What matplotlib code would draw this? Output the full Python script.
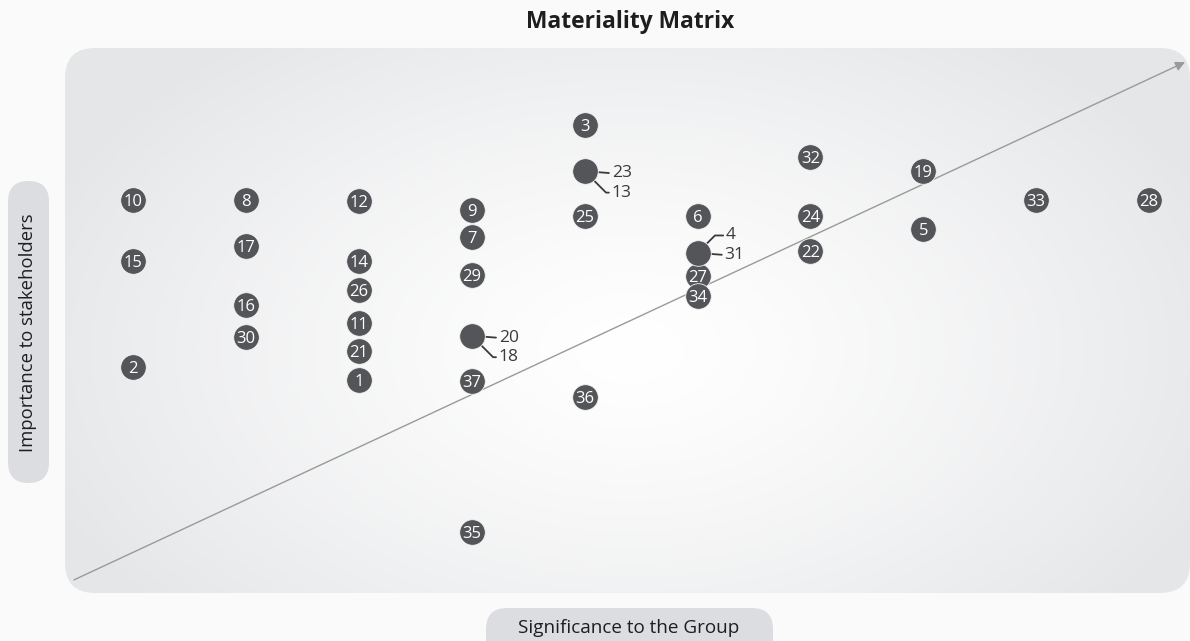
import matplotlib.pyplot as plt
import numpy as np
from matplotlib.patches import FancyBboxPatch

plt.rcParams['font.family'] = ['Open Sans', 'DejaVu Sans']

# issue number, significance to the group (column), importance to stakeholders
issue_ids = [10, 15, 2, 8, 17, 16, 30, 12, 14, 26, 11, 21, 1, 9, 7, 29, 37, 35,
             3, 25, 36, 6, 27, 34, 32, 24, 22, 19, 5, 33, 28]
significance = [1, 1, 1, 2, 2, 2, 2, 3, 3, 3, 3, 3, 3, 4, 4, 4, 4, 4,
                5, 5, 5, 6, 6, 6, 7, 7, 7, 8, 8, 9, 10]
importance = [7.21, 6.09, 4.15, 7.21, 6.37, 5.28, 4.70, 7.19, 6.09, 5.56, 4.95, 4.44,
              3.91, 7.03, 6.53, 5.83, 3.89, 1.12, 8.59, 6.92, 3.60, 6.92, 5.82, 5.45,
              8.00, 6.92, 6.28, 7.74, 6.68, 7.21, 7.21]

# overlapping issues: one dot with call-outs
group_labels = [('23', '13'), ('4', '31'), ('20', '18')]
group_significance = [5, 6, 4]
group_importance = [7.74, 6.24, 4.72]
group_callouts = [('flat', 'down'), ('up', 'flat'), ('flat', 'down')]

DOT = '#545558'
W, H = 1190, 641

fig = plt.figure(figsize=(W / 100, H / 100), dpi=100, facecolor='#fafafa')

# background layer in pixel coordinates
bg = fig.add_axes([0, 0, 1, 1])
bg.set_xlim(0, W)
bg.set_ylim(H, 0)
bg.axis('off')

bg.text(630, 22, 'Materiality Matrix', ha='center', va='center',
        fontsize=16.4, fontweight='bold', color='#1e1e1e')

bg.add_patch(FancyBboxPatch((8, 181), 41, 302, boxstyle='round,pad=0,rounding_size=20.5',
                            fc='#dcdde0', ec='none'))
bg.text(28, 333, 'Importance to stakeholders', rotation=90, ha='center', va='center',
        fontsize=13.3, color='#1e1e1e')
bg.add_patch(FancyBboxPatch((486, 608), 287, 60, boxstyle='round,pad=0,rounding_size=21',
                            fc='#dcdde0', ec='none'))
bg.text(629, 628, 'Significance to the Group', ha='center', va='center',
        fontsize=13.6, color='#1e1e1e')
bg.text(1062, 75, 'Top Priority', ha='center', va='center', fontsize=13, color='#1e1e1e')

# matrix area
x0, y0, x1, y1 = 65, 48, 1190, 593
ax = fig.add_axes([x0 / W, (H - y1) / H, (x1 - x0) / W, (y1 - y0) / H])
ax.axis('off')

panel = FancyBboxPatch((0, 0), 1, 1, boxstyle='round,pad=0,rounding_size=%f' % (30 / (x1 - x0)),
                       mutation_aspect=(x1 - x0) / (y1 - y0), transform=ax.transAxes,
                       fc='none', ec='none')
ax.add_patch(panel)

# radial grey-to-white shading
px = np.linspace(x0, x1, x1 - x0)
py = np.linspace(y1, y0, y1 - y0)
gx, gy = np.meshgrid(px, py)
d = np.sqrt(((gx - 630) / 640) ** 2 + ((gy - 350) / 400) ** 2)
t = np.clip(d, 0, 1) ** 1.3
edge = np.array([229, 230, 232]) / 255
rgb = (1 - t)[..., None] * np.array([1.0, 1.0, 1.0]) + t[..., None] * edge
img = ax.imshow(rgb, extent=(0, 1, 0, 1), transform=ax.transAxes, origin='lower',
                aspect='auto', interpolation='bilinear', zorder=0)
img.set_clip_path(panel)

ax.set_xlim(0.398, 10.362)
ax.set_ylim(0, 10)

# priority arrow
ax.annotate('', xy=(10.318, 9.74), xytext=(0.477, 0.24),
            arrowprops=dict(arrowstyle='-|>', color='#9a9a9a', lw=1, mutation_scale=14,
                            shrinkA=0, shrinkB=0), zorder=2)

ax.scatter(significance, importance, s=340, c=DOT, edgecolors='#f4f4f4',
           linewidths=0.6, zorder=4)
for n, xv, yv in zip(issue_ids, significance, importance):
    ax.text(xv, yv, str(n), ha='center', va='center_baseline', color='white',
            fontsize=12, zorder=5)

ax.scatter(group_significance, group_importance, s=340, c=DOT, edgecolors='#f4f4f4',
           linewidths=0.6, zorder=4)
offsets = {'flat': (19.5, 0, 'arc3'),
           'down': (19.5, -14, 'angle,angleA=0,angleB=-45,rad=0'),
           'up': (20.5, 14, 'angle,angleA=0,angleB=45,rad=0')}
for labels, xv, yv, kinds in zip(group_labels, group_significance, group_importance, group_callouts):
    for lab, kind in zip(labels, kinds):
        dx, dy, cs = offsets[kind]
        ax.annotate(lab, xy=(xv, yv), xytext=(dx, dy), textcoords='offset points',
                    ha='left', va='center_baseline', fontsize=12.5, color='#3a3a3a', zorder=3,
                    arrowprops=dict(arrowstyle='-', color='#3a3a3a', lw=1.3,
                                    shrinkA=0, shrinkB=0, relpos=(-0.04, 0.5),
                                    connectionstyle=cs))

fig.savefig('out.png', dpi=100, facecolor=fig.get_facecolor())
